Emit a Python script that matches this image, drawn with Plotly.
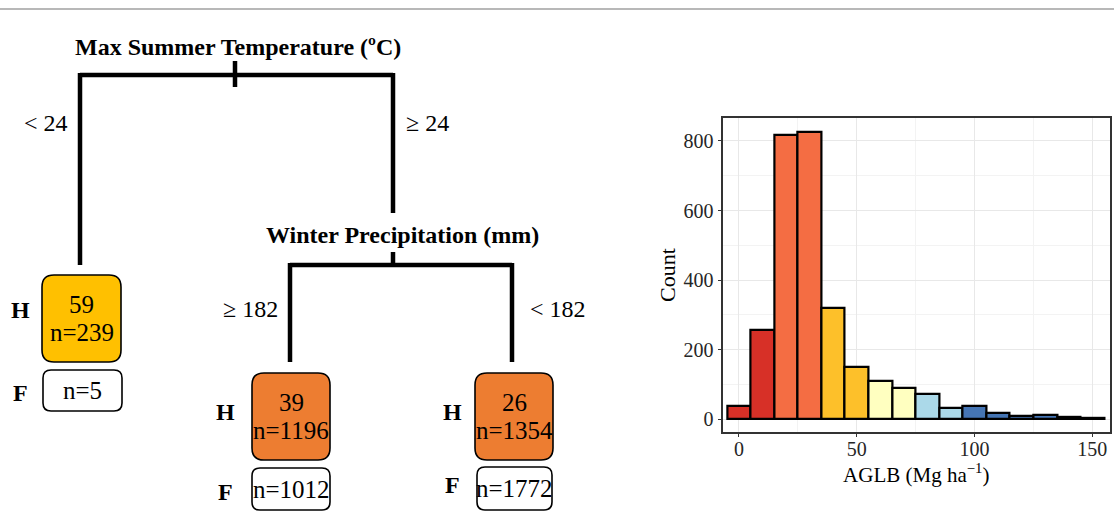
import plotly.graph_objects as go

# ---------------- data ----------------
# histogram of AGLB (bin centres, width 10)
bin_centers = [0, 10, 20, 30, 40, 50, 60, 70, 80, 90, 100, 110, 120, 130, 140, 150]
bin_counts = [37, 255, 818, 826, 319, 151, 111, 90, 73, 32, 38, 19, 10, 12, 6, 4]
bin_colors = ["#d73027", "#d73027", "#f46d43", "#f46d43", "#fdc02a", "#fdc02a",
              "#ffffc0", "#ffffc0", "#abd9e9", "#abd9e9", "#4575b4", "#4575b4",
              "#4575b4", "#4575b4", "#4575b4", "#4575b4"]

# regression tree
split_vars = ["Max Summer Temperature (ºC)", "Winter Precipitation (mm)"]
split_thresholds = [24, 182]
leaf_means = [59, 39, 26]
leaf_n_H = [239, 1196, 1354]
leaf_n_F = [5, 1012, 1772]
leaf_fill = ["#ffc000", "#ed7d31", "#ed7d31"]

W, H = 1114, 513
SERIF = "Liberation Serif, Times New Roman, serif"


def px(x):
    return x / W


def py(y):
    return 1 - y / H


fig = go.Figure()

fig.add_trace(go.Bar(
    x=bin_centers, y=bin_counts, width=10,
    marker=dict(color=bin_colors, line=dict(color="black", width=2.2)),
    showlegend=False, hoverinfo="x+y"))

shapes = []
annotations = []
LW = 4.5


def seg(x0, y0, x1, y1, w=LW):
    shapes.append(dict(type="line", xref="paper", yref="paper",
                       x0=px(x0), y0=py(y0), x1=px(x1), y1=py(y1),
                       line=dict(color="black", width=w)))


def rbox(x0, y0, x1, y1, fill, r=10, w=1.6):
    pts = lambda x, y: f"{px(x):.6f},{py(y):.6f}"
    p = (f"M {pts(x0+r, y0)} L {pts(x1-r, y0)} Q {pts(x1, y0)} {pts(x1, y0+r)} "
         f"L {pts(x1, y1-r)} Q {pts(x1, y1)} {pts(x1-r, y1)} L {pts(x0+r, y1)} "
         f"Q {pts(x0, y1)} {pts(x0, y1-r)} L {pts(x0, y0+r)} Q {pts(x0, y0)} {pts(x0+r, y0)} Z")
    shapes.append(dict(type="path", xref="paper", yref="paper", path=p, fillcolor=fill,
                       line=dict(color="black", width=w), layer="above"))


def txt(x, y, s, size=24, bold=False, xanchor="center"):
    annotations.append(dict(xref="paper", yref="paper", x=px(x), y=py(y),
                            text=(f"<b>{s}</b>" if bold else s),
                            showarrow=False, xanchor=xanchor, yanchor="middle",
                            font=dict(family=SERIF, size=size, color="black")))


# top gray separator line
shapes.append(dict(type="line", xref="paper", yref="paper", x0=0, x1=1,
                   y0=py(9), y1=py(9), line=dict(color="#b8b8b8", width=2)))

# root split
txt(238, 47, split_vars[0], size=24, bold=True)
seg(80, 75, 393, 75)
seg(235, 61, 235, 87)
seg(80, 73, 80, 265)
seg(393, 73, 393, 213)
txt(70, 123, f"< {split_thresholds[0]}", size=24, xanchor="right")
txt(404, 123, f"≥ {split_thresholds[0]}", size=24, xanchor="left")

# second split
txt(402, 235, split_vars[1], size=24, bold=True)
seg(393, 252, 393, 265)
seg(290, 265, 512, 265)
seg(290, 263, 290, 362)
seg(512, 263, 512, 362)
txt(280, 309, f"≥ {split_thresholds[1]}", size=24, xanchor="right")
txt(528, 309, f"< {split_thresholds[1]}", size=24, xanchor="left")

# leaves: (H box x0,y0,x1,y1), (F box), H label pos, F label pos
leaf_geom = [
    ((42, 275, 121, 362), (43, 370, 122, 411), (20, 310), (20, 393)),
    ((252, 373, 330, 460), (252, 468, 330, 510), (225, 412), (225, 492)),
    ((475, 373, 553, 460), (477, 467, 552, 510), (452, 412), (452, 485)),
]
for i, (hb, fb, hl, fl) in enumerate(leaf_geom):
    rbox(*hb, leaf_fill[i], r=12)
    rbox(*fb, "white", r=8)
    cx = (hb[0] + hb[2]) / 2
    cy = (hb[1] + hb[3]) / 2
    txt(cx, cy - 14, str(leaf_means[i]), size=25)
    txt(cx, cy + 14, f"n={leaf_n_H[i]}", size=25)
    txt((fb[0] + fb[2]) / 2, (fb[1] + fb[3]) / 2, f"n={leaf_n_F[i]}", size=25)
    txt(hl[0], hl[1], "H", size=24, bold=True)
    txt(fl[0], fl[1], "F", size=24, bold=True)

fig.update_layout(
    width=W, height=H,
    margin=dict(l=0, r=0, t=0, b=0),
    paper_bgcolor="white", plot_bgcolor="white",
    font=dict(family=SERIF, color="black"),
    shapes=shapes, annotations=annotations,
    bargap=0,
    xaxis=dict(domain=[px(722.5), px(1110)], range=[-7, 157.5],
               tickvals=[0, 50, 100, 150], ticks="outside", ticklen=3, tickcolor="#333333",
               tickfont=dict(size=20, family=SERIF, color="#262626"),
               ticklabelstandoff=-5,
               showgrid=True, gridcolor="#e8e8e8", gridwidth=1,
               minor=dict(tickvals=[25, 75, 125], showgrid=True, gridcolor="#f3f3f3", gridwidth=1),
               showline=True, mirror=True, linecolor="#333333", linewidth=2,
               zeroline=False,
               title=dict(text="AGLB (Mg ha<sup>−1</sup>)", font=dict(size=21, family=SERIF), standoff=0)),
    yaxis=dict(domain=[py(432), py(118)], range=[-37, 866],
               tickvals=[0, 200, 400, 600, 800], ticks="outside", ticklen=3, tickcolor="#333333",
               tickfont=dict(size=20, family=SERIF, color="#262626"),
               showgrid=True, gridcolor="#e8e8e8", gridwidth=1,
               minor=dict(tickvals=[100, 300, 500, 700], showgrid=True, gridcolor="#f3f3f3", gridwidth=1),
               showline=True, mirror=True, linecolor="#333333", linewidth=2,
               zeroline=False,
               title=dict(text="Count", font=dict(size=22, family=SERIF), standoff=2)),
)

fig.write_html("out.html", config={"displayModeBar": False},
               post_script="document.body.style.margin='0';document.body.style.overflow='hidden';")
